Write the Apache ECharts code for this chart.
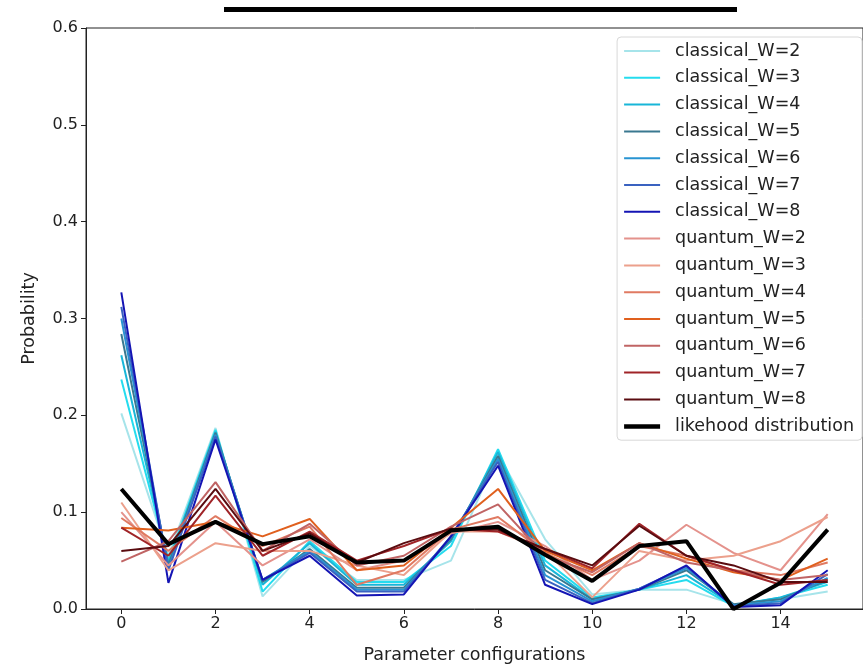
<!DOCTYPE html>
<html>
<head>
<meta charset="utf-8">
<script src="https://cdn.jsdelivr.net/npm/echarts@6/dist/echarts.min.js"></script>
<style>
html, body { margin: 0; padding: 0; background: #fff; }
#chart { width: 863px; height: 669px; }
</style>
</head>
<body>
<div id="chart"></div>
<script>
var myChart = echarts.init(document.getElementById('chart'));

// parameter configurations on x
var configs = [0, 1, 2, 3, 4, 5, 6, 7, 8, 9, 10, 11, 12, 13, 14, 15];
var xTicks = [0, 2, 4, 6, 8, 10, 12, 14];

// classical runs
var classicalW2 = [0.202, 0.055, 0.187, 0.013, 0.065, 0.030, 0.030, 0.050, 0.160, 0.072, 0.015, 0.020, 0.020, 0.005, 0.010, 0.018];
var classicalW3 = [0.237, 0.050, 0.185, 0.018, 0.070, 0.028, 0.028, 0.065, 0.165, 0.050, 0.012, 0.020, 0.030, 0.003, 0.012, 0.025];
var classicalW4 = [0.262, 0.048, 0.183, 0.025, 0.068, 0.025, 0.025, 0.070, 0.162, 0.045, 0.010, 0.020, 0.035, 0.004, 0.012, 0.028];
var classicalW5 = [0.284, 0.045, 0.182, 0.028, 0.062, 0.022, 0.022, 0.072, 0.158, 0.040, 0.010, 0.020, 0.040, 0.005, 0.010, 0.030];
var classicalW6 = [0.300, 0.042, 0.180, 0.030, 0.060, 0.020, 0.020, 0.074, 0.155, 0.035, 0.008, 0.021, 0.042, 0.004, 0.008, 0.032];
var classicalW7 = [0.312, 0.040, 0.178, 0.030, 0.058, 0.018, 0.018, 0.075, 0.152, 0.030, 0.006, 0.021, 0.044, 0.003, 0.006, 0.036];
var classicalW8 = [0.327, 0.027, 0.175, 0.030, 0.055, 0.014, 0.015, 0.075, 0.148, 0.025, 0.005, 0.020, 0.045, 0.002, 0.004, 0.040];

// quantum runs
var quantumW2 = [0.100, 0.045, 0.090, 0.045, 0.072, 0.040, 0.050, 0.078, 0.090, 0.065, 0.030, 0.050, 0.087, 0.058, 0.040, 0.098];
var quantumW3 = [0.110, 0.040, 0.068, 0.060, 0.060, 0.045, 0.035, 0.080, 0.080, 0.060, 0.012, 0.060, 0.050, 0.055, 0.070, 0.095];
var quantumW4 = [0.094, 0.060, 0.096, 0.065, 0.085, 0.025, 0.040, 0.082, 0.095, 0.058, 0.035, 0.065, 0.055, 0.040, 0.035, 0.048];
var quantumW5 = [0.084, 0.081, 0.090, 0.075, 0.093, 0.040, 0.045, 0.084, 0.124, 0.060, 0.040, 0.068, 0.052, 0.038, 0.030, 0.052];
var quantumW6 = [0.049, 0.070, 0.131, 0.060, 0.088, 0.045, 0.055, 0.085, 0.108, 0.055, 0.038, 0.068, 0.048, 0.040, 0.030, 0.035];
var quantumW7 = [0.084, 0.055, 0.117, 0.055, 0.080, 0.050, 0.065, 0.083, 0.080, 0.062, 0.042, 0.088, 0.055, 0.040, 0.025, 0.030];
var quantumW8 = [0.060, 0.065, 0.124, 0.060, 0.078, 0.048, 0.068, 0.083, 0.082, 0.062, 0.045, 0.086, 0.055, 0.045, 0.028, 0.028];

// target
var likehood = [0.124, 0.067, 0.090, 0.067, 0.075, 0.048, 0.050, 0.081, 0.085, 0.056, 0.029, 0.065, 0.070, 0.000, 0.027, 0.082];

var seriesDefs = [
	['classical_W=2', classicalW2, '#a6e4ea', 2],
	['classical_W=3', classicalW3, '#25dcee', 2],
	['classical_W=4', classicalW4, '#18b6d8', 2],
	['classical_W=5', classicalW5, '#3a7890', 2],
	['classical_W=6', classicalW6, '#2894d2', 2],
	['classical_W=7', classicalW7, '#3a62c0', 2],
	['classical_W=8', classicalW8, '#1414b4', 2],
	['quantum_W=2', quantumW2, '#e4928c', 2],
	['quantum_W=3', quantumW3, '#eca08c', 2],
	['quantum_W=4', quantumW4, '#e07a62', 2],
	['quantum_W=5', quantumW5, '#e0601e', 2],
	['quantum_W=6', quantumW6, '#c06464', 2],
	['quantum_W=7', quantumW7, '#a02428', 2],
	['quantum_W=8', quantumW8, '#5a0c10', 2],
	['likehood distribution', likehood, '#000000', 4]
];

// legend swatches: a bar in a 36x17 box
var thinIcon = 'path://M0,0L0,0M0,7.5h36v2h-36zM36,17L36,17';
var thickIcon = 'path://M0,0L0,0M0,6.5h36v4.5h-36zM36,17L36,17';

var series = seriesDefs.map(function (d) {
	return {
		name: d[0],
		type: 'line',
		symbol: 'none',
		data: configs.map(function (x, i) { return [x, d[1][i]]; }),
		lineStyle: { color: d[2], width: d[3] },
		itemStyle: { color: d[2] },
		z: d[3] > 2 ? 5 : 2
	};
});

var font = 'DejaVu Sans';

myChart.setOption({
	animation: false,
	backgroundColor: '#fff',
	grid: {
		left: 86,
		right: -2,
		top: 28,
		bottom: 56,
		show: true,
		borderColor: '#222',
		borderWidth: 1
	},
	xAxis: {
		type: 'value',
		min: -0.75,
		max: 15.75,
		name: 'Parameter configurations',
		nameLocation: 'middle',
		nameGap: 37,
		nameTextStyle: { fontFamily: font, fontSize: 17.5, color: '#222' },
		axisLine: { onZero: false, lineStyle: { color: '#222' } },
		axisTick: { length: 5, customValues: xTicks, lineStyle: { color: '#222' } },
		axisLabel: { customValues: xTicks, fontFamily: font, fontSize: 16, color: '#222', margin: 7 },
		splitLine: { show: false }
	},
	yAxis: {
		type: 'value',
		min: 0,
		max: 0.6,
		interval: 0.1,
		name: 'Probability',
		nameLocation: 'middle',
		nameGap: 48,
		nameTextStyle: { fontFamily: font, fontSize: 17.5, color: '#222' },
		axisLine: { show: true, onZero: false, lineStyle: { color: '#222' } },
		axisTick: { show: true, length: 5, lineStyle: { color: '#222' } },
		axisLabel: {
			fontFamily: font, fontSize: 16, color: '#222', margin: 8,
			formatter: function (v) { return v.toFixed(1); }
		},
		splitLine: { show: false }
	},
	legend: {
		orient: 'vertical',
		right: 1,
		top: 37,
		padding: [5, 8, 5, 7],
		itemWidth: 36,
		itemHeight: 17,
		itemGap: 8.8,
		backgroundColor: '#fff',
		borderColor: '#d8d8d8',
		borderWidth: 1,
		borderRadius: 4,
		textStyle: { fontFamily: font, fontSize: 17.5, color: '#222', padding: [0, 0, 0, 10] },
		data: seriesDefs.map(function (d) {
			return { name: d[0], icon: d[3] > 2 ? thickIcon : thinIcon };
		})
	},
	graphic: [{
		type: 'rect',
		left: 224,
		top: 7,
		shape: { width: 513, height: 5 },
		style: { fill: '#000' }
	}],
	series: series
});

window.addEventListener('resize', function () {
	myChart.resize();
});
</script>
</body>
</html>
